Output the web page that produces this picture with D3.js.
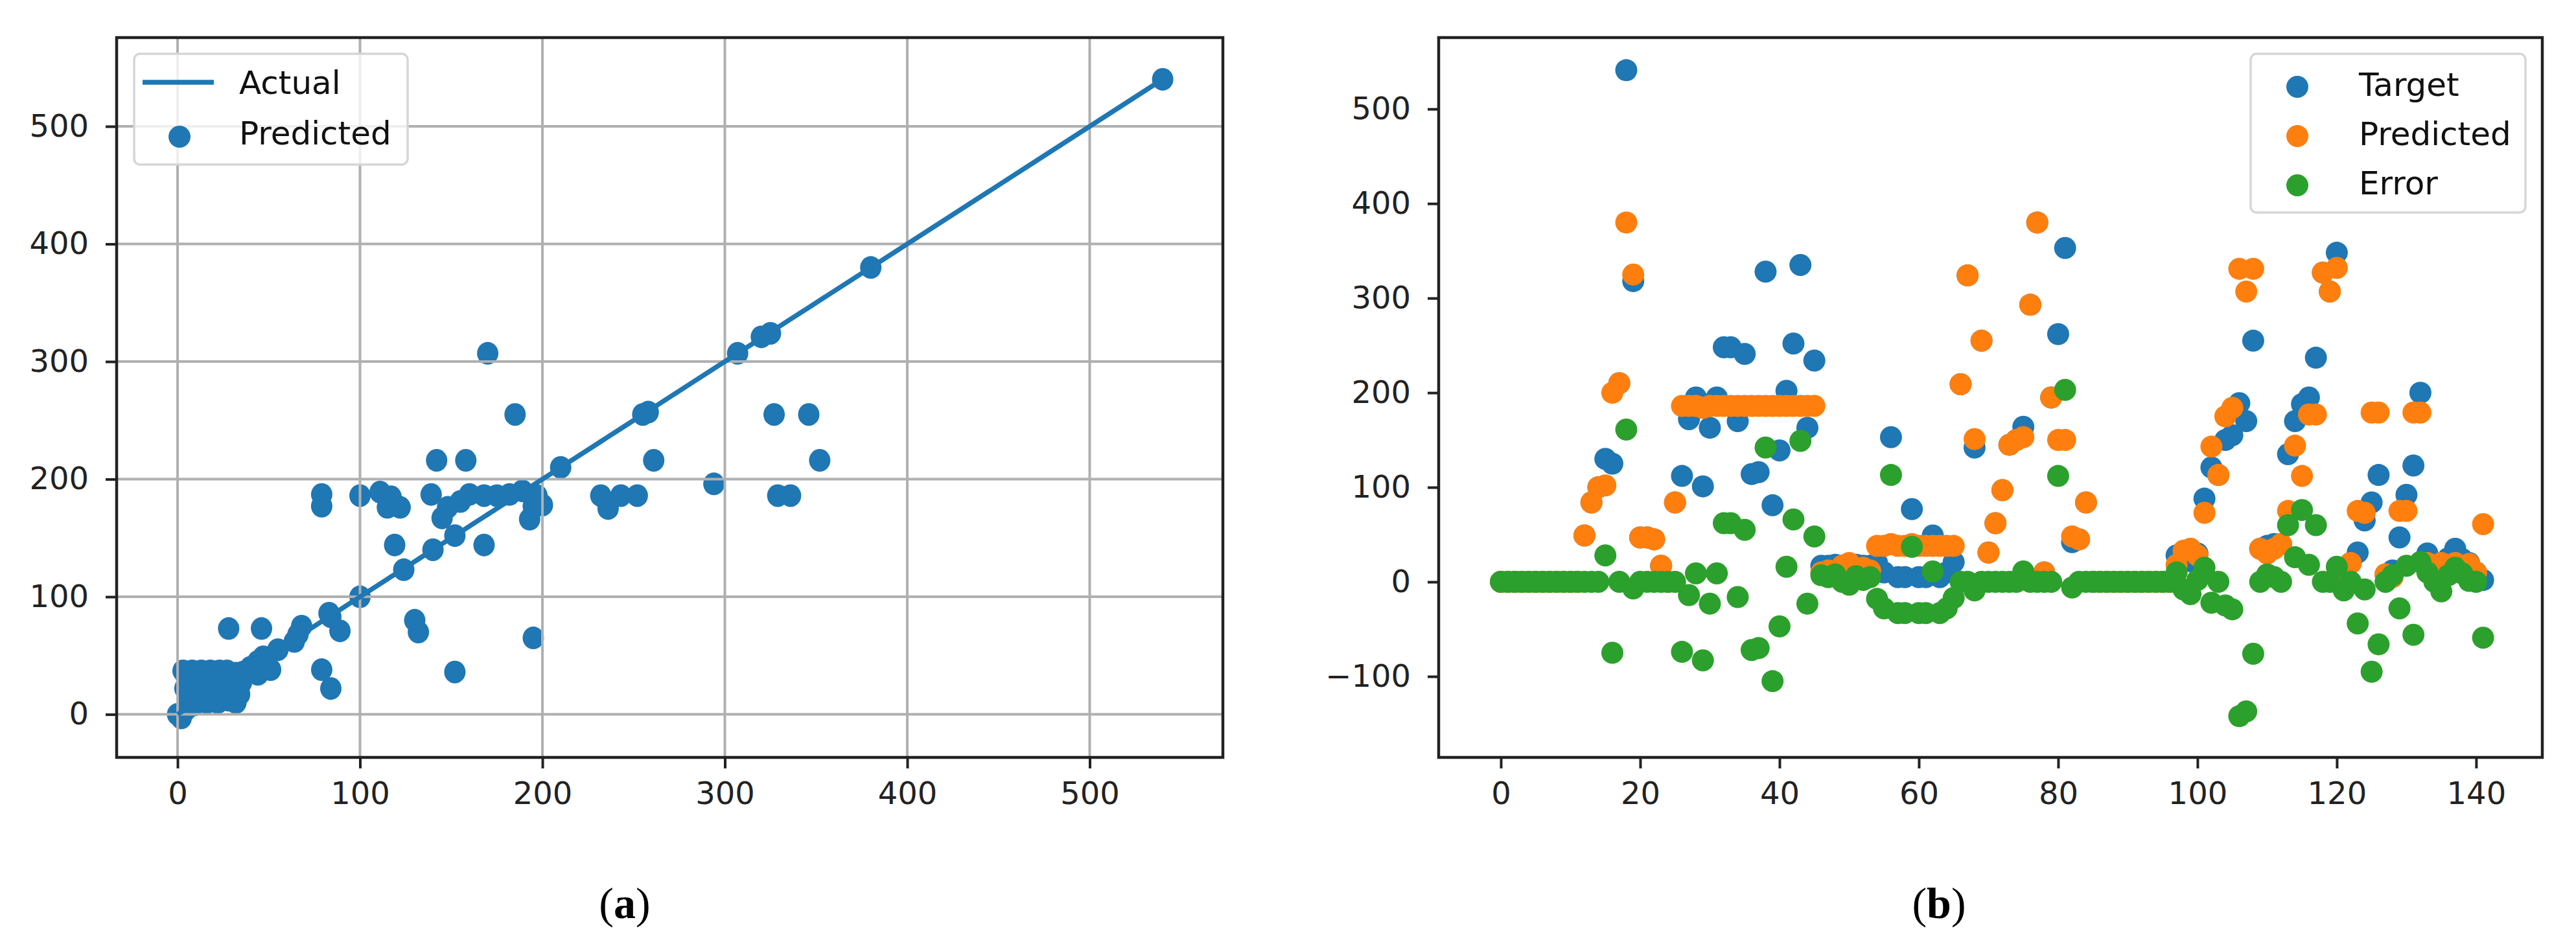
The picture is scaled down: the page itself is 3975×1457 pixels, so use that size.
<!DOCTYPE html>
<html>
<head>
<meta charset="utf-8">
<script src="https://cdn.jsdelivr.net/npm/d3@7"></script>
<style>
  body { margin: 0; background: #fff; }
  svg text { font-family: "DejaVu Sans", sans-serif; }
  svg text.caption { font-family: "Liberation Serif", "Times New Roman", serif; }
</style>
</head>
<body>
<script>
// ---- panel (a): actual vs predicted ----
let actualA = [
  0, 2, 4, 6, 9, 12, 15, 3, 8, 13, 18, 23, 27, 32, 35, 5, 11, 17, 23, 29, 35,
  4, 10, 16, 22, 28, 33, 6, 18, 24, 30, 34, 16, 22, 28, 32, 20, 25, 30, 36,
  40, 44, 44, 47, 51, 55, 64, 66, 68, 28, 46, 83, 84, 89, 79, 84, 100, 124,
  140, 152, 119, 168, 130, 132, 152, 195, 79, 79, 100, 111, 115, 117, 122,
  139, 142, 158, 145, 148, 155, 160, 168, 175, 182, 189, 193, 195, 197, 200,
  170, 185, 210, 232, 236, 243, 252, 255, 258, 261, 294, 307, 320, 325, 327,
  346, 352, 329, 336, 380, 540
];
let predictedA = [
  0, -3, 3, 6, 8, 12, 15, 37, 37, 37, 37, 37, 37, 35, 33, 30, 30, 30, 30, 30, 27,
  22, 22, 22, 22, 22, 22, 15, 15, 15, 15, 17, 10, 10, 12, 10, 20, 25, 30, 36,
  40, 34, 45, 49, 38, 55, 62, 68, 75, 73, 73, 86, 83, 71, 38, 22, 100, 123,
  140, 152, 144, 144, 80, 70, 36, 65, 187, 177, 186, 189, 176, 185, 176,
  187, 216, 216, 167, 176, 181, 187, 186, 186, 187, 190, 166, 177, 186, 178,
  307, 255, 210, 186, 175, 186, 186, 255, 257, 216, 196, 307, 321, 324, 255,
  255, 216, 186, 186, 380, 540
];
let ticksAX = [0, 100, 200, 300, 400, 500];
let ticksAY = [0, 100, 200, 300, 400, 500];

// ---- panel (b): target / predicted / error per sample ----
let target = [
  0, 0, 0, 0, 0, 0, 0, 0, 0, 0,
  0, 0, 49, 84, 100, 130, 125, 210, 541, 318,
  47, 47, 45, 17, 0, 84, 112, 172, 195, 101,
  163, 195, 248, 248, 170, 241, 114, 116, 328, 81,
  139, 202, 252, 335, 163, 234, 17, 17, 18, 17,
  17, 18, 17, 17, 20, 10, 153, 5, 5, 77,
  5, 5, 49, 5, 10, 21, 209, 324, 142, 255,
  31, 62, 97, 145, 150, 164, 293, 380, 10, 195,
  262, 353, 42, 45, 84, 0, 0, 0, 0, 0,
  0, 0, 0, 0, 0, 0, 0, 28, 25, 22,
  30, 88, 121, 113, 150, 155, 189, 170, 255, 35,
  38, 40, 40, 135, 170, 188, 195, 237, 327, 307,
  348, 5, 20, 31, 65, 84, 113, 8, 12, 47,
  92, 123, 200, 30, 15, 10, 25, 35, 24, 20,
  10, 2
];
let predicted = [
  0, 0, 0, 0, 0, 0, 0, 0, 0, 0,
  0, 0, 49, 84, 100, 102, 200, 210, 380, 325,
  47, 47, 45, 17, 0, 84, 186, 186, 186, 184,
  186, 186, 186, 186, 186, 186, 186, 186, 186, 186,
  186, 186, 186, 186, 186, 186, 10, 12, 10, 17,
  20, 12, 15, 12, 38, 38, 40, 38, 38, 40,
  38, 38, 38, 38, 38, 38, 209, 324, 151, 255,
  31, 62, 97, 145, 150, 153, 293, 380, 10, 195,
  150, 150, 48, 45, 84, 0, 0, 0, 0, 0,
  0, 0, 0, 0, 0, 0, 0, 18, 33, 35,
  28, 73, 143, 113, 175, 184, 331, 307, 331, 35,
  30, 35, 40, 75, 144, 112, 177, 177, 327, 307,
  332, 14, 20, 75, 73, 179, 179, 8, 5, 75,
  75, 179, 179, 20, 15, 20, 18, 20, 15, 19,
  10, 61
];
let errors = [
  0, 0, 0, 0, 0, 0, 0, 0, 0, 0,
  0, 0, 0, 0, 0, 28, -75, 0, 161, -7,
  0, 0, 0, 0, 0, 0, -74, -14, 9, -83,
  -23, 9, 62, 62, -16, 55, -72, -70, 142, -105,
  -47, 16, 66, 149, -23, 48, 7, 5, 8, 0,
  -3, 6, 2, 5, -18, -28, 113, -33, -33, 37,
  -33, -33, 11, -33, -28, -17, 0, 0, -9, 0,
  0, 0, 0, 0, 0, 11, 0, 0, 0, 0,
  112, 203, -6, 0, 0, 0, 0, 0, 0, 0,
  0, 0, 0, 0, 0, 0, 0, 10, -8, -13,
  2, 15, -22, 0, -25, -29, -142, -137, -76, 0,
  8, 5, 0, 60, 26, 76, 18, 60, 0, 0,
  16, -9, 0, -44, -8, -95, -66, 0, 7, -28,
  17, -56, 21, 10, 0, -10, 7, 15, 9, 1,
  0, -59
];
let ticksBX = [0, 20, 40, 60, 80, 100, 120, 140];
let ticksBY = [-100, 0, 100, 200, 300, 400, 500];

const C_BLUE = '#1f77b4', C_ORANGE = '#ff7f0e', C_GREEN = '#2ca02c';
const R = 17;

let width = 3975, height = 1457;
let svg = d3.select('body').append('svg')
  .attr('width', width).attr('height', height);

let frameA = { left: 180, right: 1887, top: 58, bottom: 1169 };
let frameB = { left: 2220, right: 3923, top: 58, bottom: 1169 };

let xA = d3.scaleLinear().domain([-33.4, 573]).range([frameA.left, frameA.right]);
let yA = d3.scaleLinear().domain([-36.6, 575.5]).range([frameA.bottom, frameA.top]);
let xB = d3.scaleLinear().domain([-8.93, 149.5]).range([frameB.left, frameB.right]);
let yB = d3.scaleLinear().domain([-185.6, 575.5]).range([frameB.bottom, frameB.top]);

function styleAxis(g) {
  g.select('.domain').remove();
  g.selectAll('.tick line').attr('stroke', '#222').attr('stroke-width', 4);
  g.selectAll('.tick text').attr('font-size', 48).attr('fill', '#222');
}

function drawAxes(x, y, f, tx, ty) {
  svg.append('g')
    .attr('transform', `translate(0,${f.bottom})`)
    .call(d3.axisBottom(x).tickValues(tx).tickSize(17).tickPadding(21))
    .call(styleAxis);
  svg.append('g')
    .attr('transform', `translate(${f.left},0)`)
    .call(d3.axisLeft(y).tickValues(ty).tickSize(17).tickPadding(26))
    .call(styleAxis);
  svg.append('rect')
    .attr('x', f.left).attr('y', f.top)
    .attr('width', f.right - f.left).attr('height', f.bottom - f.top)
    .attr('fill', 'none').attr('stroke', '#222').attr('stroke-width', 4.5);
}

// ---------- panel (a) ----------
let pairsA = actualA.map((a, i) => ({ a: a, p: predictedA[i] }));

svg.append('g').selectAll('ellipse')
  .data(pairsA).enter().append('ellipse')
  .attr('cx', d => xA(d.a)).attr('cy', d => yA(d.p))
  .attr('rx', R - 0.5).attr('ry', R + 0.5)
  .attr('fill', C_BLUE);

// grid sits above the scatter, below the line (matplotlib zorder)
let gridA = svg.append('g');
gridA.selectAll('.gx').data(ticksAX).enter().append('line')
  .attr('x1', d => xA(d)).attr('x2', d => xA(d))
  .attr('y1', frameA.top).attr('y2', frameA.bottom)
  .attr('stroke', '#b0b0b0').attr('stroke-width', 4);
gridA.selectAll('.gy').data(ticksAY).enter().append('line')
  .attr('y1', d => yA(d)).attr('y2', d => yA(d))
  .attr('x1', frameA.left).attr('x2', frameA.right)
  .attr('stroke', '#b0b0b0').attr('stroke-width', 4);

let sortedActual = actualA.slice().sort((m, n) => m - n);
let lineA = d3.line().x(d => xA(d)).y(d => yA(d));
svg.append('path')
  .datum(sortedActual)
  .attr('d', lineA)
  .attr('fill', 'none').attr('stroke', C_BLUE).attr('stroke-width', 7.5);

drawAxes(xA, yA, frameA, ticksAX, ticksAY);

// legend (a)
let legA = svg.append('g').attr('transform', `translate(${frameA.left + 27},${frameA.top + 25})`);
legA.append('rect').attr('width', 422).attr('height', 171).attr('rx', 9)
  .attr('fill', '#fff').attr('fill-opacity', 0.8)
  .attr('stroke', '#d6d6d6').attr('stroke-width', 3.5);
legA.append('line').attr('x1', 13).attr('x2', 123).attr('y1', 44).attr('y2', 44)
  .attr('stroke', C_BLUE).attr('stroke-width', 7.5);
legA.append('circle').attr('cx', 70).attr('cy', 128).attr('r', R).attr('fill', C_BLUE);
legA.append('text').attr('x', 162).attr('y', 62).attr('font-size', 50).attr('fill', '#111').text('Actual');
legA.append('text').attr('x', 162).attr('y', 140).attr('font-size', 50).attr('fill', '#111').text('Predicted');

// ---------- panel (b) ----------
let series = [
  { name: 'Target', values: target, color: C_BLUE },
  { name: 'Predicted', values: predicted, color: C_ORANGE },
  { name: 'Error', values: errors, color: C_GREEN }
];

series.forEach(s => {
  svg.append('g').selectAll('circle')
    .data(s.values).enter().append('circle')
    .attr('cx', (d, i) => xB(i)).attr('cy', d => yB(d))
    .attr('r', R).attr('fill', s.color);
});

drawAxes(xB, yB, frameB, ticksBX, ticksBY);

// legend (b)
let legB = svg.append('g').attr('transform', `translate(3473,83)`);
legB.append('rect').attr('width', 424).attr('height', 245).attr('rx', 9)
  .attr('fill', '#fff').attr('fill-opacity', 0.8)
  .attr('stroke', '#d6d6d6').attr('stroke-width', 3.5);
series.forEach((s, i) => {
  legB.append('circle').attr('cx', 72).attr('cy', 51 + i * 76).attr('r', R).attr('fill', s.color);
  legB.append('text').attr('x', 167).attr('y', 65 + i * 76)
    .attr('font-size', 50).attr('fill', '#111').text(s.name);
});

// ---------- captions ----------
[['a', 964], ['b', 2992]].forEach(([lab, cx]) => {
  let t = svg.append('text').attr('class', 'caption')
    .attr('x', cx).attr('y', 1417)
    .attr('text-anchor', 'middle')
    .attr('font-size', 68).attr('fill', '#000');
  t.append('tspan').text('(');
  t.append('tspan').attr('font-weight', 'bold').text(lab);
  t.append('tspan').text(')');
});
</script>
</body>
</html>
